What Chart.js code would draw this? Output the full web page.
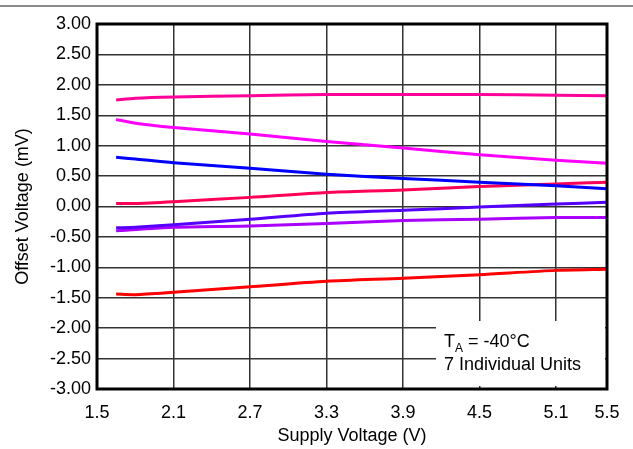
<!DOCTYPE html>
<html>
<head>
<meta charset="utf-8">
<script src="https://cdn.jsdelivr.net/npm/chart.js@4.4.0/dist/chart.umd.min.js"></script>
<style>
  html, body { margin: 0; padding: 0; background: #fff; }
  #wrap { position: relative; width: 633px; height: 449px; }
  #topline { position: absolute; left: 0; top: 5px; width: 633px; height: 2px; background: #8a8a8a; }
</style>
</head>
<body>
<div id="wrap">
  <div id="topline"></div>
  <canvas id="offsetChart" width="633" height="449"></canvas>
</div>
<script>
// Supply voltage points (V)
const supplyVoltage = [1.65, 1.8, 2.1, 2.7, 3.3, 3.9, 4.5, 5.1, 5.5];
const xTicks = [1.5, 2.1, 2.7, 3.3, 3.9, 4.5, 5.1, 5.5];

// Offset voltage (mV) for the 7 units
const unit1 = [1.75, 1.78, 1.8, 1.82, 1.84, 1.84, 1.84, 1.83, 1.82];
const unit2 = [1.43, 1.37, 1.3, 1.19, 1.07, 0.96, 0.85, 0.76, 0.71];
const unit3 = [0.81, 0.78, 0.72, 0.63, 0.53, 0.46, 0.4, 0.34, 0.29];
const unit4 = [0.05, 0.05, 0.08, 0.15, 0.23, 0.27, 0.33, 0.37, 0.4];
const unit5 = [-0.35, -0.34, -0.3, -0.21, -0.11, -0.06, -0.01, 0.04, 0.07];
const unit6 = [-0.4, -0.38, -0.34, -0.32, -0.28, -0.23, -0.21, -0.18, -0.18];
const unit7 = [-1.44, -1.45, -1.41, -1.32, -1.23, -1.18, -1.12, -1.05, -1.03];

const units = [unit1, unit2, unit3, unit4, unit5, unit6, unit7];
const colors = ["#ff0099", "#ff00ff", "#0000ff", "#ff0055", "#5500ff", "#aa00ff", "#ff0000"];

const FONT = "'Liberation Sans', Arial, sans-serif";
const FS = 18;

function toPoints(values) {
  return values.map((v, i) => ({ x: supplyVoltage[i], y: v }));
}

// frame + annotation box
const framePlugin = {
  id: "frame",
  afterDatasetsDraw(chart) {
    const { ctx, chartArea: a } = chart;
    ctx.save();
    // annotation box (covers the grid)
    ctx.fillStyle = "#fff";
    ctx.fillRect(436, 321, a.right - 436 - 2, 65);
    ctx.fillStyle = "#000";
    ctx.textBaseline = "alphabetic";
    ctx.font = FS + "px " + FONT;
    let x = 444;
    ctx.fillText("T", x, 347);
    x += ctx.measureText("T").width;
    ctx.font = "12px " + FONT;
    ctx.fillText("A", x, 352);
    x += ctx.measureText("A").width;
    ctx.font = FS + "px " + FONT;
    ctx.fillText(" = -40°C", x, 347);
    ctx.fillText("7 Individual Units", 444, 370);
    // plot frame
    ctx.strokeStyle = "#000";
    ctx.lineWidth = 3;
    ctx.strokeRect(a.left, a.top, a.right - a.left, a.bottom - a.top);
    ctx.restore();
  },
};

const ctx = document.getElementById("offsetChart").getContext("2d");
new Chart(ctx, {
  type: "line",
  data: {
    datasets: units.map((u, i) => ({
      label: "Unit " + (i + 1),
      data: toPoints(u),
      borderColor: colors[i],
      borderWidth: 3,
      pointRadius: 0,
      tension: 0.25,
      fill: false,
    })),
  },
  options: {
    responsive: false,
    animation: false,
    layout: { padding: { top: 24, right: 26, left: 12, bottom: 0 } },
    plugins: {
      legend: { display: false },
      tooltip: { enabled: false },
    },
    scales: {
      x: {
        type: "linear",
        min: 1.5,
        max: 5.5,
        afterBuildTicks: (scale) => {
          scale.ticks = xTicks.map((v) => ({ value: v }));
        },
        afterFit: (scale) => { scale.height = 60; },
        grid: { color: "#333", lineWidth: 1.5, drawTicks: false },
        border: { display: false },
        ticks: {
          color: "#000",
          font: { family: FONT, size: FS },
          padding: 13,
          maxRotation: 0,
          callback: (v) => Number(v).toFixed(1),
        },
        title: {
          display: true,
          text: "Supply Voltage (V)",
          color: "#000",
          font: { family: FONT, size: FS },
          padding: { top: 0, bottom: 2 },
        },
      },
      y: {
        min: -3,
        max: 3,
        ticks: {
          stepSize: 0.5,
          color: "#000",
          font: { family: FONT, size: FS },
          padding: 6,
          callback: (v) => Number(v).toFixed(2),
        },
        afterFit: (scale) => { scale.width = 85; },
        grid: { color: "#333", lineWidth: 1.5, drawTicks: false },
        border: { display: false },
        title: {
          display: true,
          text: "Offset Voltage (mV)",
          color: "#000",
          font: { family: FONT, size: FS },
          padding: { top: 0, bottom: 4 },
        },
      },
    },
  },
  plugins: [framePlugin],
});
</script>
</body>
</html>
